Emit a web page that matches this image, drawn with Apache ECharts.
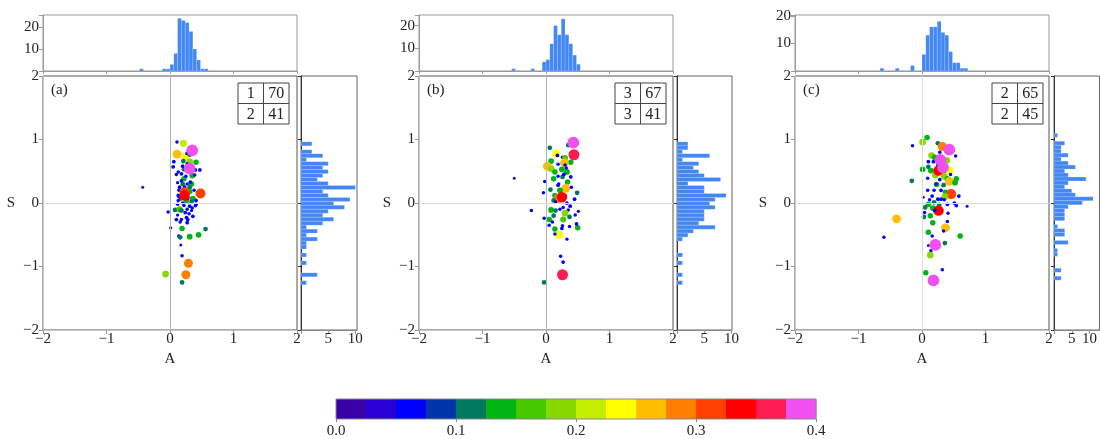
<!DOCTYPE html>
<html>
<head>
<meta charset="utf-8">
<title>A-S scatter with marginal histograms</title>
<script src="https://cdn.jsdelivr.net/npm/echarts@6/dist/echarts.min.js"></script>
</head>
<body style="margin:0">
<div id="main" style="width:1100px;height:439px;"></div>
<script>
// colour levels of the bar, one per 0.025
var levelColors = ['#3a00a8', '#2800d6', '#0000ff', '#0035aa', '#00785e', '#00b414', '#46c800', '#88d800',
    '#c4ee00', '#ffff00', '#ffbf00', '#ff8000', '#ff4000', '#ff0000', '#ff1c50', '#f050f0'];
var levelStep = 0.025;

// points [A, S, value]
var pointsA = [
    [0.11, 0.96, 0.06], [0.21, 0.94, 0.21], [0.11, 0.77, 0.27], [0.24, 0.73, 0.24], [0.27, 0.78, 0.07],
    [0.31, 0.76, 0.11], [0.06, 0.65, 0.07], [0.21, 0.66, 0.11], [0.31, 0.65, 0.18], [0.41, 0.64, 0.14],
    [0.05, 0.57, 0.07], [0.22, 0.53, 0.11], [0.40, 0.52, 0.07], [0.47, 0.52, 0.07], [0.13, 0.49, 0.06],
    [0.35, 0.43, 0.14], [0.39, 0.44, 0.06], [0.18, 0.46, 0.07], [0.22, 0.38, 0.14], [-0.43, 0.25, 0.04],
    [0.20, 0.30, 0.11], [0.27, 0.30, 0.06], [0.34, 0.30, 0.14], [0.15, 0.25, 0.07], [0.23, 0.25, 0.07],
    [0.31, 0.25, 0.11], [0.14, 0.20, 0.06], [0.31, 0.18, 0.14], [0.13, 0.12, 0.07], [0.17, 0.07, 0.11],
    [0.36, 0.07, 0.15], [0.41, 0.04, 0.07], [0.34, 0.02, 0.11], [0.13, 0.04, 0.06], [0.26, 0.04, 0.15],
    [0.41, -0.02, 0.07], [0.12, -0.02, 0.06], [0.22, -0.04, 0.06], [0.31, -0.05, 0.07], [0.40, -0.04, 0.07],
    [0.08, -0.11, 0.11], [0.15, -0.10, 0.17], [-0.03, -0.14, 0.06], [0.18, -0.12, 0.11], [0.27, -0.10, 0.06],
    [0.34, -0.12, 0.05], [0.12, -0.19, 0.05], [0.26, -0.23, 0.07], [0.36, -0.21, 0.07], [0.18, -0.26, 0.06],
    [0.28, -0.26, 0.07], [0.10, -0.26, 0.07], [0.27, -0.31, 0.07], [0.01, -0.39, 0.05], [0.19, -0.40, 0.14],
    [0.56, -0.41, 0.11], [0.14, -0.52, 0.07], [0.16, -0.54, 0.11], [0.31, -0.53, 0.15], [0.45, -0.50, 0.15],
    [0.17, -0.66, 0.04], [0.19, -0.83, 0.06], [0.29, -0.95, 0.28], [-0.07, -1.12, 0.19], [0.25, -1.13, 0.28],
    [0.19, -1.25, 0.11], [0.18, 0.35, 0.06], [0.25, 0.42, 0.06], [0.32, 0.33, 0.07], [0.14, 0.10, 0.06],
    [0.28, 0.08, 0.07], [0.20, 0.00, 0.06], [0.35, -0.08, 0.06], [0.24, -0.15, 0.07], [0.16, -0.30, 0.06],
    [0.30, -0.17, 0.06], [0.12, 0.32, 0.05], [0.38, 0.20, 0.06], [0.27, 0.62, 0.06], [0.20, 0.58, 0.07],
    [0.10, 0.45, 0.06], [0.35, 0.83, 0.39], [0.31, 0.54, 0.39], [0.23, 0.17, 0.32], [0.48, 0.15, 0.32],
    [0.23, 0.12, 0.34]
];
var pointsB = [
    [0.35, 0.91, 0.11], [0.06, 0.87, 0.11], [0.26, 0.72, 0.06], [0.16, 0.78, 0.24], [0.30, 0.71, 0.16],
    [0.08, 0.66, 0.15], [0.39, 0.64, 0.14], [0.29, 0.63, 0.27], [0.02, 0.58, 0.27], [0.19, 0.61, 0.06],
    [0.08, 0.54, 0.19], [0.25, 0.53, 0.15], [0.33, 0.49, 0.15], [0.14, 0.49, 0.14], [0.32, 0.55, 0.06],
    [0.19, 0.42, 0.06], [0.12, 0.38, 0.14], [0.26, 0.41, 0.11], [-0.02, 0.34, 0.06], [0.39, 0.41, 0.07],
    [0.34, 0.33, 0.14], [0.19, 0.28, 0.07], [0.31, 0.23, 0.27], [0.07, 0.21, 0.11], [0.22, 0.20, 0.15],
    [0.49, 0.16, 0.11], [-0.04, 0.16, 0.06], [0.14, 0.12, 0.14], [0.19, 0.07, 0.28], [0.12, 0.04, 0.11],
    [0.30, 0.12, 0.06], [0.45, 0.06, 0.07], [-0.50, 0.39, 0.04], [-0.23, -0.12, 0.06], [0.08, -0.11, 0.15],
    [0.15, -0.12, 0.11], [0.27, -0.07, 0.06], [0.38, -0.05, 0.07], [0.35, -0.11, 0.06], [0.30, -0.16, 0.19],
    [-0.03, -0.24, 0.06], [0.05, -0.26, 0.14], [0.12, -0.20, 0.11], [0.27, -0.26, 0.16], [0.37, -0.22, 0.11],
    [0.46, -0.19, 0.06], [0.51, -0.13, 0.05], [0.05, -0.35, 0.06], [0.14, -0.41, 0.14], [0.26, -0.36, 0.06],
    [0.37, -0.37, 0.06], [0.50, -0.39, 0.14], [0.48, -0.33, 0.07], [0.21, -0.50, 0.24], [0.14, -0.49, 0.06],
    [0.33, -0.57, 0.05], [0.23, -0.84, 0.06], [0.27, -0.93, 0.07], [-0.03, -1.25, 0.11], [0.20, 0.30, 0.06],
    [0.28, 0.45, 0.07], [0.15, 0.02, 0.06], [0.33, 0.00, 0.07], [0.22, -0.10, 0.06], [0.40, 0.25, 0.06],
    [0.10, -0.30, 0.06], [0.25, -0.40, 0.07], [0.30, 0.60, 0.06], [0.18, 0.75, 0.07], [0.43, 0.95, 0.39],
    [0.44, 0.76, 0.36], [0.25, 0.09, 0.34], [0.26, -1.13, 0.36]
];
var pointsC = [
    [0.08, 1.03, 0.14], [0.01, 0.96, 0.19], [-0.15, 0.90, 0.06], [0.25, 0.94, 0.11], [0.32, 0.89, 0.28],
    [0.28, 0.80, 0.06], [0.53, 0.74, 0.06], [0.15, 0.75, 0.18], [0.20, 0.72, 0.15], [0.39, 0.67, 0.19],
    [0.10, 0.65, 0.07], [0.18, 0.65, 0.07], [0.01, 0.53, 0.15], [0.10, 0.57, 0.11], [0.14, 0.51, 0.15],
    [0.21, 0.44, 0.19], [0.26, 0.51, 0.34], [0.38, 0.50, 0.06], [0.43, 0.51, 0.24], [0.35, 0.42, 0.19],
    [0.09, 0.39, 0.06], [0.28, 0.37, 0.07], [0.40, 0.38, 0.14], [0.43, 0.34, 0.27], [0.54, 0.38, 0.14],
    [0.52, 0.32, 0.15], [-0.16, 0.35, 0.11], [0.23, 0.29, 0.14], [0.34, 0.28, 0.11], [0.09, 0.20, 0.06],
    [0.19, 0.20, 0.06], [0.37, 0.17, 0.14], [0.46, 0.14, 0.32], [0.36, 0.10, 0.19], [0.16, 0.11, 0.07],
    [0.58, 0.11, 0.07], [0.02, 0.09, 0.04], [0.25, 0.06, 0.07], [0.30, 0.06, 0.07], [0.10, -0.02, 0.14],
    [0.19, 0.01, 0.11], [0.27, -0.03, 0.11], [0.40, -0.02, 0.07], [0.51, 0.00, 0.07], [0.54, -0.04, 0.07],
    [0.71, -0.05, 0.04], [0.05, -0.07, 0.11], [0.17, -0.08, 0.15], [0.26, -0.12, 0.34], [0.04, -0.15, 0.06],
    [0.13, -0.20, 0.14], [0.03, -0.22, 0.11], [0.41, -0.16, 0.06], [0.17, -0.31, 0.14], [-0.40, -0.25, 0.27],
    [0.37, -0.39, 0.27], [0.40, -0.29, 0.06], [0.10, -0.46, 0.14], [0.16, -0.52, 0.06], [0.34, -0.44, 0.06],
    [0.60, -0.52, 0.14], [-0.60, -0.54, 0.06], [0.36, -0.63, 0.11], [0.10, -0.67, 0.04], [0.14, -0.75, 0.06],
    [0.13, -0.82, 0.19], [0.32, -1.05, 0.06], [0.06, -1.10, 0.14], [0.22, 0.30, 0.06], [0.30, 0.20, 0.07],
    [0.12, 0.05, 0.06], [0.35, 0.05, 0.06], [0.20, -0.12, 0.07], [0.45, 0.45, 0.06], [0.25, 0.60, 0.06],
    [0.43, 0.84, 0.39], [0.29, 0.68, 0.39], [0.33, 0.56, 0.39], [0.21, -0.66, 0.39], [0.18, -1.22, 0.39]
];

// histogram of A above each panel: first bin edge, bin width, counts
var topBinW = 0.06;
var topStartA = -0.48, topCountsA = [1, 0, 0, 0, 0, 0, 1, 1, 3, 8, 24, 23, 22, 18, 10, 5, 1, 1];
var topStartB = -0.54, topCountsB = [1, 0, 0, 0, 0, 1, 0, 0, 4, 5, 12, 20, 16, 23, 16, 12, 7, 3];
var topStartC = -0.66, topCountsC = [1, 0, 0, 0, 1, 0, 0, 0, 2, 0, 0, 6, 13, 16, 16, 18, 14, 13, 7, 3, 3, 1, 1];

// histogram of S right of each panel: top bin edge, bin width, counts listed from the top bin down
var rightBinW = 0.0625;
var rightTopA = 0.963, rightCountsA = [2, 0, 2, 4, 1, 5, 4, 5, 4, 3, 5, 10, 4, 5, 9, 6, 8, 5, 4, 6, 4, 1, 3, 1, 3, 1, 1, 0, 1, 0, 1, 0, 0, 3, 0, 1];
var rightTopB = 0.963, rightCountsB = [2, 2, 1, 6, 1, 4, 3, 4, 5, 8, 2, 5, 5, 9, 7, 6, 7, 5, 5, 5, 4, 7, 3, 2, 1, 0, 0, 0, 1, 0, 1, 0, 0, 1, 0, 1];
var rightTopC = 1.097, rightCountsC = [1, 0, 3, 2, 2, 4, 2, 4, 6, 3, 4, 9, 4, 3, 5, 6, 11, 8, 4, 3, 3, 3, 0, 1, 3, 3, 0, 4, 0, 1, 1, 0, 0, 0, 2, 0, 2];

// little tables in the corner
var tableA = [[1, 70], [2, 41]];
var tableB = [[3, 67], [3, 41]];
var tableC = [[2, 65], [2, 45]];
var tags = ['(a)', '(b)', '(c)'];

var font = 'Liberation Serif';
var histColor = '#4287f5';

var panels = [
    {x: 43, rx: 301, rw: 56, pts: pointsA, tStart: topStartA, tCounts: topCountsA, tMax: 25.5,
        rTop: rightTopA, rCounts: rightCountsA, rMax: 10.3, table: tableA, tableX: 238, zeroV: '#b4b4b4'},
    {x: 419, rx: 677, rw: 55, pts: pointsB, tStart: topStartB, tCounts: topCountsB, tMax: 24.7,
        rTop: rightTopB, rCounts: rightCountsB, rMax: 10.1, table: tableB, tableX: 615, zeroV: '#b4b4b4'},
    {x: 795, rx: 1054, rw: 55, pts: pointsC, tStart: topStartC, tCounts: topCountsC, tMax: 20.3,
        rTop: rightTopC, rCounts: rightCountsC, rMax: 12.8, table: tableC, tableX: 992, zeroV: '#dcdcdc'}
];

function minus(v) {
    return String(v).replace('-', '\u2212');
}

function topBars(params, api) {
    var n = api.value(2);
    if (!n) return null;
    var p0 = api.coord([api.value(0), 0]);
    var p1 = api.coord([api.value(1), n]);
    return {
        type: 'rect',
        shape: {x: p0[0], y: p1[1], width: p1[0] - p0[0], height: p0[1] - p1[1]},
        style: {fill: histColor, stroke: 'rgba(255,255,255,0.35)', lineWidth: 0.5}
    };
}

function rightBars(params, api) {
    var n = api.value(2);
    if (!n) return null;
    var p0 = api.coord([0, api.value(0)]);
    var p1 = api.coord([n, api.value(1)]);
    return {
        type: 'rect',
        shape: {x: p0[0], y: p1[1], width: p1[0] - p0[0], height: p0[1] - p1[1]},
        style: {fill: histColor, stroke: 'rgba(255,255,255,0.35)', lineWidth: 0.5}
    };
}

var grid = [], xAxis = [], yAxis = [], series = [], graphic = [], scatterIdx = [];
var tickLabel = {fontFamily: font, fontSize: 15, color: '#222'};

panels.forEach(function (p, i) {
    var g = grid.length;
    // main scatter
    grid.push({left: p.x, top: 76, width: 254, height: 254, show: true, borderColor: '#555', borderWidth: 1});
    xAxis.push({
        gridIndex: g, type: 'value', min: -2, max: 2, interval: 1,
        name: 'A', nameLocation: 'middle', nameGap: 21,
        nameTextStyle: {fontFamily: font, fontSize: 15, color: '#222'},
        axisLine: {show: true, onZero: false, lineStyle: {color: '#c8c8c8'}},
        axisTick: {show: true, length: 4, lineStyle: {color: '#999'}},
        axisLabel: Object.assign({margin: 2, formatter: minus}, tickLabel),
        splitLine: {show: false}
    });
    yAxis.push({
        gridIndex: g, type: 'value', min: -2, max: 2, interval: 1,
        name: 'S', nameLocation: 'middle', nameRotate: 0, nameGap: 28,
        nameTextStyle: {fontFamily: font, fontSize: 15, color: '#222', padding: [0, 0, 14, 0]},
        axisLine: {show: true, onZero: false, lineStyle: {color: '#c8c8c8'}},
        axisTick: {show: true, length: 4, lineStyle: {color: '#999'}},
        axisLabel: Object.assign({margin: 4, formatter: minus}, tickLabel),
        splitLine: {show: false}
    });
    scatterIdx.push(series.length);
    series.push({
        type: 'scatter', xAxisIndex: g, yAxisIndex: g,
        data: p.pts,
        symbolSize: function (v) { return 2 + v[2] * 25; },
        itemStyle: {opacity: 1},
        markLine: {
            silent: true, symbol: 'none', label: {show: false}, animation: false,
            data: [
                {xAxis: 0, lineStyle: {color: p.zeroV, width: 1, type: 'solid'}},
                {yAxis: 0, lineStyle: {color: '#dadada', width: 1, type: 'solid'}}
            ]
        },
        z: 3
    });

    // histogram of A on top
    grid.push({left: p.x, top: 15, width: 254, height: 56, show: true, borderColor: '#999', borderWidth: 1});
    xAxis.push({
        gridIndex: g + 1, type: 'value', min: -2, max: 2, interval: 1,
        axisLine: {show: true, onZero: false, lineStyle: {color: '#999'}},
        axisTick: {show: true, length: 3, lineStyle: {color: '#999'}},
        axisLabel: {show: false}, splitLine: {show: false}
    });
    yAxis.push({
        gridIndex: g + 1, type: 'value', min: 0, max: p.tMax, interval: 10,
        axisLine: {show: true, onZero: false, lineStyle: {color: '#999'}},
        axisTick: {show: true, length: 4, lineStyle: {color: '#999'}},
        axisLabel: Object.assign({margin: 4, showMaxLabel: true, formatter: function (v) {
            return v === 10 || v === 20 ? String(v) : '';
        }}, tickLabel),
        splitLine: {show: false}
    });
    series.push({
        type: 'custom', xAxisIndex: g + 1, yAxisIndex: g + 1, renderItem: topBars,
        data: p.tCounts.map(function (n, k) {
            return [p.tStart + k * topBinW, p.tStart + (k + 1) * topBinW, n];
        })
    });

    // histogram of S on the right
    grid.push({left: p.rx, top: 76, width: p.rw, height: 254, show: true, borderColor: '#666', borderWidth: 1});
    xAxis.push({
        gridIndex: g + 2, type: 'value', min: 0, max: p.rMax, interval: 5,
        axisLine: {show: true, onZero: false, lineStyle: {color: '#888'}},
        axisTick: {show: true, length: 4, lineStyle: {color: '#999'}},
        axisLabel: Object.assign({margin: 2, showMaxLabel: false, formatter: function (v) {
            return v === 0 ? '' : String(v);
        }}, tickLabel),
        splitLine: {show: false}
    });
    yAxis.push({
        gridIndex: g + 2, type: 'value', min: -2, max: 2, interval: 1,
        axisLine: {show: true, onZero: false, lineStyle: {color: '#333'}},
        axisTick: {show: true, length: 3, lineStyle: {color: '#333'}},
        axisLabel: {show: false}, splitLine: {show: false}
    });
    series.push({
        type: 'custom', xAxisIndex: g + 2, yAxisIndex: g + 2, renderItem: rightBars,
        data: p.rCounts.map(function (n, k) {
            return [p.rTop - (k + 1) * rightBinW, p.rTop - k * rightBinW, n];
        })
    });

    // panel tag and table
    graphic.push({
        type: 'text', left: p.x + 8, top: 83,
        style: {text: tags[i], font: '15px "Liberation Serif"', fill: '#222'}
    });
    var cw = 25.5, ch = 20.5, kids = [];
    kids.push({type: 'rect', shape: {x: 0, y: 0, width: cw * 2, height: ch * 2},
        style: {fill: '#fff', stroke: '#444', lineWidth: 1}});
    kids.push({type: 'line', shape: {x1: cw, y1: 0, x2: cw, y2: ch * 2}, style: {stroke: '#444', lineWidth: 1}});
    kids.push({type: 'line', shape: {x1: 0, y1: ch, x2: cw * 2, y2: ch}, style: {stroke: '#444', lineWidth: 1}});
    p.table.forEach(function (row, r) {
        row.forEach(function (val, c) {
            kids.push({
                type: 'text', x: cw * c + cw / 2, y: ch * r + ch / 2 + 1,
                style: {text: String(val), font: '16px "Liberation Serif"', fill: '#222',
                    align: 'center', verticalAlign: 'middle'}
            });
        });
    });
    graphic.push({type: 'group', x: p.tableX, y: 83, children: kids, z: 10});
});

// colour bar
var cb = grid.length;
grid.push({left: 336, top: 399, width: 480, height: 24, show: true, borderColor: '#888', borderWidth: 1,
    backgroundColor: 'transparent', z: 5});
xAxis.push({
    gridIndex: cb, type: 'value', min: 0, max: 0.4, interval: 0.1,
    axisLine: {show: false},
    axisTick: {show: true, length: 3, lineStyle: {color: '#888'}},
    axisLabel: Object.assign({margin: 5, formatter: function (v) { return v.toFixed(1); }}, tickLabel),
    splitLine: {show: false}
});
yAxis.push({gridIndex: cb, type: 'value', min: 0, max: 1, show: false});
series.push({
    type: 'custom', xAxisIndex: cb, yAxisIndex: cb,
    renderItem: function (params, api) {
        var p0 = api.coord([api.value(0), 0]);
        var p1 = api.coord([api.value(1), 1]);
        return {
            type: 'rect',
            shape: {x: p0[0], y: p1[1], width: p1[0] - p0[0] + 0.5, height: p0[1] - p1[1]},
            style: {fill: levelColors[api.value(2)]}
        };
    },
    data: levelColors.map(function (c, k) { return [k * levelStep, (k + 1) * levelStep, k]; })
});

var myChart = echarts.init(document.getElementById('main'));
myChart.setOption({
    animation: false,
    backgroundColor: '#fff',
    textStyle: {fontFamily: font},
    grid: grid,
    xAxis: xAxis,
    yAxis: yAxis,
    visualMap: {
        type: 'piecewise', show: false, dimension: 2, seriesIndex: scatterIdx,
        pieces: levelColors.map(function (c, k) {
            return {gte: k * levelStep, lt: (k + 1) * levelStep + (k === levelColors.length - 1 ? 0.001 : 0), color: c};
        })
    },
    series: series,
    graphic: graphic
});
</script>
</body>
</html>
